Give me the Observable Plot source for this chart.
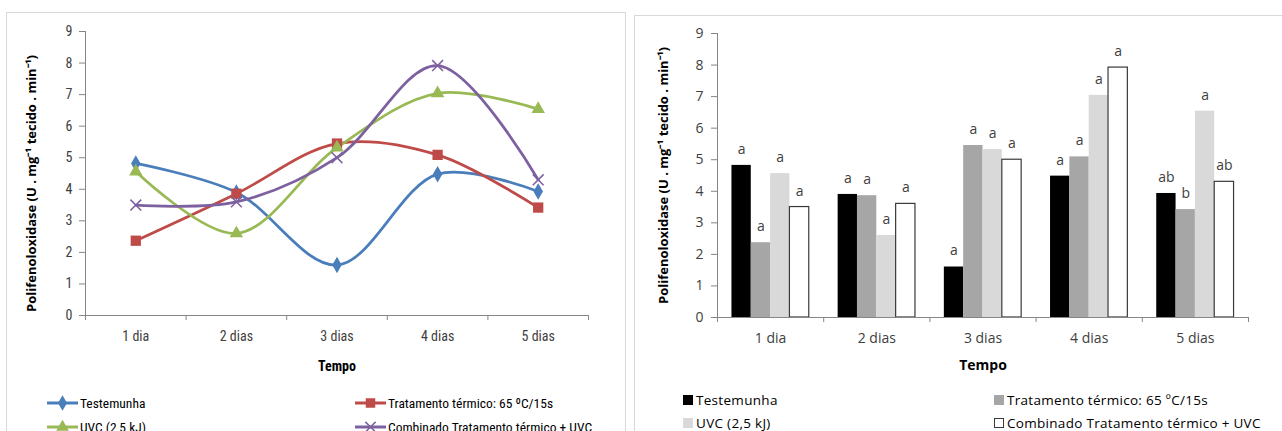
<!DOCTYPE html>
<html><head><meta charset="utf-8">
<script src="https://cdn.jsdelivr.net/npm/d3@7"></script>
<script src="https://cdn.jsdelivr.net/npm/@observablehq/plot@0.6"></script>
<style>
body{margin:0;width:1282px;height:431px;overflow:hidden;background:#fff;position:relative}
.box{position:absolute;border:1px solid #d9d9d9;box-sizing:border-box}
.chart{position:absolute;top:0}
.leg{position:absolute;white-space:nowrap;display:flex;align-items:center;color:#000}
.narrow{font-family:"Liberation Sans Narrow","Arial Narrow","Roboto Condensed",Roboto,sans-serif;font-size:13.5px}
.wide{font-family:"Open Sans",sans-serif;font-size:13.5px;letter-spacing:0.3px}
.sq{display:inline-block;width:10px;height:10px;box-sizing:border-box;margin-right:3px}
</style></head><body>
<div class="box" style="left:6px;top:12px;width:620px;height:440px"></div>
<div class="box" style="left:634px;top:15px;width:660px;height:440px"></div>
<div id="left" class="chart" style="left:0"></div>
<div id="right" class="chart" style="left:634px"></div>
<div id="legends"></div>
<script>
// ---- data ----
const days = ["1 dia", "2 dias", "3 dias", "4 dias", "5 dias"];
const series = ["Testemunha", "Tratamento térmico: 65 ºC/15s", "UVC (2,5 kJ)", "Combinado Tratamento térmico + UVC"];
const testemunha = [4.82, 3.90, 1.60, 4.48, 3.93];
const termico    = [2.37, 3.86, 5.45, 5.09, 3.42];
const uvc        = [4.56, 2.60, 5.32, 7.04, 6.54];
const combinado  = [3.50, 3.60, 5.00, 7.92, 4.30];
const lettersTestemunha = ["a", "a", "a", "a", "ab"];
const lettersTermico    = ["a", "a", "a", "a", "b"];
const lettersUvc        = ["a", "a", "a", "a", "a"];
const lettersCombinado  = ["a", "a", "a", "a", "ab"];
const yTicks = [0, 1, 2, 3, 4, 5, 6, 7, 8, 9];
const yLabel = "Polifenoloxidase (U . mg⁻¹ tecido . min⁻¹)";
const xLabel = "Tempo";

// ---- styles ----
const lineColors = ["#4a7ebb", "#be4b48", "#98b954", "#7d60a0"];
const lineSymbols = ["diamond", "square", "triangle", "times"];
const barFills = ["#000000", "#a6a6a6", "#d9d9d9", "#ffffff"];
const barStrokes = ["none", "none", "none", "#3a3a3a"];

const values = [testemunha, termico, uvc, combinado];
const letters = [lettersTestemunha, lettersTermico, lettersUvc, lettersCombinado];
const rows = days.flatMap((day, i) => series.map((s, k) => ({
  day, i, k, series: s, value: values[k][i], letter: letters[k][i]
})));

const boundaries = d3.range(days.length + 1);
const centers = days.map((d, i) => i + 0.5);
const narrowFont = '"Liberation Sans Narrow","Arial Narrow","Roboto Condensed",Roboto,sans-serif';
const wideFont = '"Open Sans",sans-serif';

// ---- left: smoothed lines ----
const left = Plot.plot({
  width: 630, height: 385,
  marginLeft: 85, marginRight: 42, marginTop: 31, marginBottom: 70,
  style: {fontFamily: narrowFont, fontSize: "14px", color: "#404040", background: "transparent", overflow: "visible"},
  x: {type: "linear", domain: [0, days.length]},
  y: {domain: [0, 9]},
  color: {domain: series, range: lineColors},
  marks: [
    Plot.axisY(yTicks, {tickSize: 6, tickPadding: 7, stroke: "#868686", label: null}),
    Plot.axisX(boundaries, {tickSize: 5, stroke: "#868686", tickFormat: () => "", label: null}),
    Plot.axisX(centers, {tickSize: 0, tickPadding: 16, tickFormat: v => days[Math.floor(v)], label: null}),
    Plot.ruleX([0], {stroke: "#868686"}),
    Plot.ruleY([0], {stroke: "#868686"}),
    Plot.line(rows, {x: d => d.i + 0.5, y: "value", z: "series", stroke: "series", curve: "catmull-rom", strokeWidth: 2.75}),
    ...series.map((s, k) => Plot.dot(rows.filter(d => d.k === k), {
      x: d => d.i + 0.5, y: "value", symbol: () => lineSymbols[k],
      r: [5, 5.8, 5, 5][k],
      fill: lineSymbols[k] === "times" ? "none" : lineColors[k],
      stroke: lineSymbols[k] === "times" ? lineColors[k] : "none",
      strokeWidth: 1.5
    })),
    Plot.text([xLabel], {frameAnchor: "bottom", dy: 55, fontWeight: "bold", fill: "#000", fontSize: 14}),
    Plot.text([yLabel], {frameAnchor: "left", textAnchor: "middle", rotate: -90, dx: -54, dy: 10, fontWeight: "bold", fill: "#000", fontSize: 13, fontFamily: wideFont})
  ]
});
document.getElementById("left").appendChild(left);

// ---- right: grouped bars ----
const bw = 0.182;
const gap = (1 - series.length * bw) / 2;
const right = Plot.plot({
  width: 648, height: 385,
  marginLeft: 83, marginRight: 34, marginTop: 33, marginBottom: 68,
  style: {fontFamily: wideFont, fontSize: "13.5px", color: "#404040", background: "transparent", overflow: "visible"},
  x: {type: "linear", domain: [0, days.length]},
  y: {domain: [0, 9]},
  marks: [
    Plot.rectY(rows, {
      x1: d => d.i + gap + d.k * bw, x2: d => d.i + gap + (d.k + 1) * bw,
      y1: 0, y2: "value",
      fill: d => barFills[d.k], stroke: d => barStrokes[d.k], strokeWidth: 1.2
    }),
    Plot.text(rows, {x: d => d.i + gap + (d.k + 0.5) * bw, y: "value", text: "letter", dy: -16, fill: "#404040", fontSize: 14}),
    Plot.axisY(yTicks, {tickSize: 6, tickPadding: 8, stroke: "#868686", label: null, fontSize: 14}),
    Plot.axisX(boundaries, {tickSize: 5, stroke: "#868686", tickFormat: () => "", label: null}),
    Plot.axisX(centers, {tickSize: 0, tickPadding: 16, tickFormat: v => days[Math.floor(v)], label: null, fontSize: 14}),
    Plot.ruleX([0], {stroke: "#868686"}),
    Plot.ruleY([0], {stroke: "#868686"}),
    Plot.text([xLabel], {frameAnchor: "bottom", dy: 52, fontWeight: "bold", fill: "#000", fontSize: 14}),
    Plot.text([yLabel], {frameAnchor: "left", textAnchor: "middle", rotate: -90, dx: -54, dy: 0, fontWeight: "bold", fill: "#000", fontSize: 13})
  ]
});
document.getElementById("right").appendChild(right);

// ---- legends ----
const legends = document.getElementById("legends");
const symPath = (k) => {
  const sym = {diamond: d3.symbolDiamond, square: d3.symbolSquare, triangle: d3.symbolTriangle, times: d3.symbolTimes}[lineSymbols[k]];
  return d3.symbol(sym, [70, 90, 70, 70][k])();
};
const leftPos = [[47, 403], [355, 403], [47, 427], [355, 427]];
series.forEach((s, k) => {
  const el = document.createElement("div");
  el.className = "leg narrow";
  el.style.left = leftPos[k][0] + "px";
  el.style.top = (leftPos[k][1] - 10) + "px";
  el.style.height = "20px";
  const c = lineColors[k];
  const times = lineSymbols[k] === "times";
  el.innerHTML = `<svg width="31" height="20" style="margin-right:2px"><line x1="0" x2="31" y1="10" y2="10" stroke="${c}" stroke-width="3"/>` +
    `<path transform="translate(15.5,10)" d="${symPath(k)}" fill="${times ? "none" : c}" stroke="${times ? c : "none"}" stroke-width="1.5"/></svg>` +
    `<span>${s}</span>`;
  legends.appendChild(el);
});
const rightPos = [[683, 400], [994, 400], [683, 423], [994, 423]];
series.forEach((s, k) => {
  const el = document.createElement("div");
  el.className = "leg wide";
  el.style.left = rightPos[k][0] + "px";
  el.style.top = (rightPos[k][1] - 10) + "px";
  el.style.height = "20px";
  const border = barStrokes[k] === "none" ? "" : `border:1px solid ${barStrokes[k]};`;
  el.innerHTML = `<span class="sq" style="background:${barFills[k]};${border}"></span><span>${s}</span>`;
  legends.appendChild(el);
});
</script>
</body></html>
